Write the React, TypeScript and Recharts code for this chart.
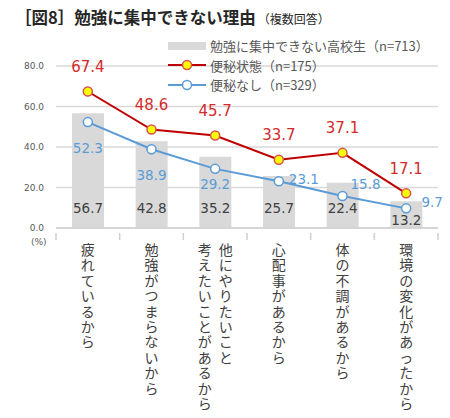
import React from "react";
import {
  Bar,
  CartesianGrid,
  ComposedChart,
  LabelList,
  Line,
  XAxis,
  YAxis,
} from "recharts";

const reasons = [
  "疲れているから",
  "勉強がつまらないから",
  "他にやりたいこと\n考えたいことがあるから",
  "心配事があるから",
  "体の不調があるから",
  "環境の変化があったから",
];
const allStudents = [56.7, 42.8, 35.2, 25.7, 22.4, 13.2];
const constipated = [67.4, 48.6, 45.7, 33.7, 37.1, 17.1];
const notConstipated = [52.3, 38.9, 29.2, 23.1, 15.8, 9.7];
const yTicks = [0, 20, 40, 60, 80];

const seriesNames = [
  "勉強に集中できない高校生（n=713）",
  "便秘状態（n=175）",
  "便秘なし（n=329）",
];

const data = reasons.map((name, i) => ({
  name,
  all: allStudents[i],
  yes: constipated[i],
  no: notConstipated[i],
}));

const W = 450;
const H = 418;
const PLOT_LEFT = 56;
const PLOT_RIGHT = 12;
const BAND = (W - PLOT_LEFT - PLOT_RIGHT) / reasons.length;

const RED = "#C00000";
const RED_TEXT = "#D42A2A";
const BLUE = "#5B9BD5";
const GREY_BAR = "#D9D9D9";
const TEXT = "#404040";
const NUM_FONT = "'DejaVu Sans', Verdana, sans-serif";
const JP_FONT = "'Noto Sans CJK JP', 'Noto Sans', sans-serif";

// blue label placement tweaks (dx, dy from point)
const blueLabelShift = [
  [0, 26],
  [0, 26],
  [0, 15],
  [25, -2],
  [23, -12],
  [26, -6],
];

const CategoryTick = (props: any) => {
  const { x, y, payload, index } = props;
  const lines: string[] = String(payload.value).split("\n");
  const colGap = 21;
  const pitch = 15.4;
  const left = x - BAND / 2;
  const marks = [left];
  if (index === reasons.length - 1) marks.push(x + BAND / 2);
  return (
    <g>
      {marks.map((mx, k) => (
        <line key={k} x1={mx} x2={mx} y1={y - 3} y2={y + 4} stroke="#D0D0D0" strokeWidth={1.5} />
      ))}
      {lines.map((ln, li) => {
        const cx = x + ((lines.length - 1) / 2) * colGap - li * colGap;
        return Array.from(ln).map((ch, ci) => (
          <text
            key={`${li}-${ci}`}
            x={cx}
            y={y + 14 + ci * pitch}
            dy="0.35em"
            textAnchor="middle"
            fontSize={14}
            fontFamily={JP_FONT}
            fill={TEXT}
          >
            {ch}
          </text>
        ));
      })}
    </g>
  );
};

const YTick = (props: any) => {
  const { x, y, payload } = props;
  return (
    <text x={x} y={y} dy="0.35em" textAnchor="end" fontSize={9} fontFamily={NUM_FONT} fill="#595959">
      {Number(payload.value).toFixed(1)}
    </text>
  );
};

const BarValue = (props: any) => {
  const { x, y, width, height, value } = props;
  const off = height < 30 ? 7.5 : 19.5;
  return (
    <text
      x={x + width / 2}
      y={y + height - off}
      dy="0.35em"
      textAnchor="middle"
      fontSize={13.5}
      fontFamily={NUM_FONT}
      fill={TEXT}
    >
      {Number(value).toFixed(1)}
    </text>
  );
};

const RedValue = (props: any) => {
  const { x, y, value } = props;
  return (
    <text x={x} y={y - 25} dy="0.35em" textAnchor="middle" fontSize={15} fontFamily={NUM_FONT} fill={RED_TEXT}>
      {Number(value).toFixed(1)}
    </text>
  );
};

const BlueValue = (props: any) => {
  const { x, y, value, index } = props;
  const [dx, dy] = blueLabelShift[index] || [0, 26];
  return (
    <text
      x={x + dx}
      y={y + dy}
      dy="0.35em"
      textAnchor="middle"
      fontSize={13.5}
      fontFamily={NUM_FONT}
      fill={BLUE}
    >
      {Number(value).toFixed(1)}
    </text>
  );
};

const LegendBox = () => {
  const rowStyle: React.CSSProperties = {
    display: "flex",
    alignItems: "center",
    height: 19.5,
    whiteSpace: "nowrap",
  };
  const textStyle: React.CSSProperties = {
    fontSize: 13,
    color: "#595959",
    fontFamily: JP_FONT,
    marginLeft: 4,
  };
  return (
    <div style={{ position: "absolute", left: 168, top: 36, background: "transparent" }}>
      <div style={rowStyle}>
        <svg width={38} height={10}>
          <rect x={0} y={1} width={38} height={8} fill={GREY_BAR} />
        </svg>
        <span style={textStyle}>{seriesNames[0]}</span>
      </div>
      <div style={rowStyle}>
        <svg width={38} height={12}>
          <line x1={0} x2={38} y1={6} y2={6} stroke={RED} strokeWidth={2} />
          <circle cx={19} cy={6} r={4.5} fill="#FFFF00" stroke="#D9534F" strokeWidth={1.5} />
        </svg>
        <span style={textStyle}>{seriesNames[1]}</span>
      </div>
      <div style={rowStyle}>
        <svg width={38} height={12}>
          <line x1={0} x2={38} y1={6} y2={6} stroke={BLUE} strokeWidth={2} />
          <circle cx={19} cy={6} r={4.5} fill="#FFFFFF" stroke={BLUE} strokeWidth={1.5} />
        </svg>
        <span style={textStyle}>{seriesNames[2]}</span>
      </div>
    </div>
  );
};

export default function App() {
  return (
    <div style={{ position: "absolute", left: 0, top: 0, width: W, height: H, background: "#fff" }}>
      <div
        style={{
          position: "absolute",
          left: 15,
          top: 5,
          fontFamily: JP_FONT,
          color: "#262626",
          whiteSpace: "nowrap",
        }}
      >
        <span style={{ fontSize: 16.5, fontWeight: 700 }}>［図8］勉強に集中できない理由</span>
        <span style={{ fontSize: 12, marginLeft: 2 }}>（複数回答）</span>
      </div>
      <ComposedChart
        width={W}
        height={H}
        data={data}
        margin={{ top: 66, right: PLOT_RIGHT, bottom: 0, left: 0 }}
        barSize={32}
      >
        <CartesianGrid vertical={false} stroke="#D9D9D9" strokeWidth={1.5} />
        <XAxis
          dataKey="name"
          height={190}
          interval={0}
          axisLine={{ stroke: "#D0D0D0", strokeWidth: 1.5 }}
          tickLine={false}
          tick={<CategoryTick />}
        />
        <YAxis
          width={PLOT_LEFT}
          domain={[0, 80]}
          ticks={yTicks}
          axisLine={false}
          tickLine={false}
          tick={<YTick />}
          tickMargin={6}
        />
        <Bar dataKey="all" fill={GREY_BAR} isAnimationActive={false}>
          <LabelList dataKey="all" content={<BarValue />} />
        </Bar>
        <Line
          dataKey="yes"
          stroke={RED}
          strokeWidth={2}
          dot={{ r: 4.5, fill: "#FFFF00", stroke: "#D9534F", strokeWidth: 1.5 }}
          isAnimationActive={false}
        >
          <LabelList dataKey="yes" content={<RedValue />} />
        </Line>
        <Line
          dataKey="no"
          stroke={BLUE}
          strokeWidth={2}
          dot={{ r: 4.5, fill: "#FFFFFF", stroke: BLUE, strokeWidth: 1.5 }}
          isAnimationActive={false}
        >
          <LabelList dataKey="no" content={<BlueValue />} />
        </Line>
      </ComposedChart>
      <div
        style={{
          position: "absolute",
          left: 31,
          top: 237,
          fontSize: 9,
          fontFamily: NUM_FONT,
          color: "#595959",
        }}
      >
        (%)
      </div>
      <LegendBox />
    </div>
  );
}
